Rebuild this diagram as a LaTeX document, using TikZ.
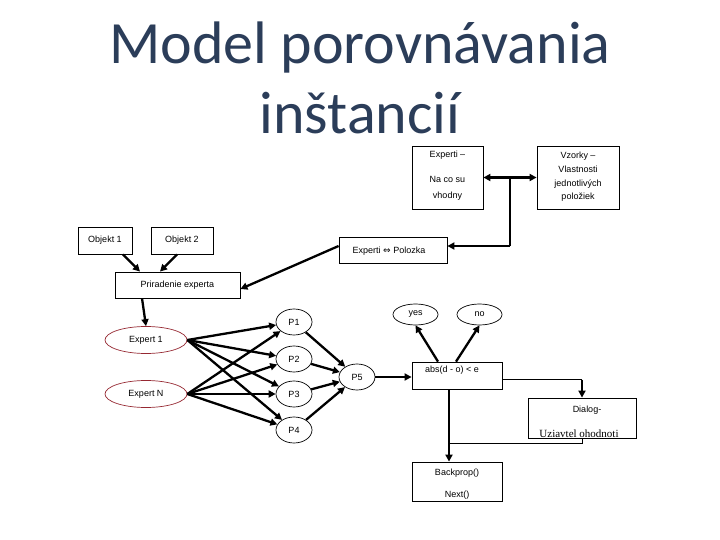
\documentclass[tikz,border=0pt]{standalone}
\usepackage{fontspec}
\setmainfont{Liberation Sans}
\newfontfamily\titlefont{Carlito}
\newfontfamily\symfont{DejaVu Sans}
\newfontfamily\serfont{Liberation Serif}
\usetikzlibrary{arrows.meta,shapes.geometric,calc}
\definecolor{titleblue}{RGB}{43,61,89}
\definecolor{exred}{RGB}{150,40,50}
\begin{document}
\begin{tikzpicture}[x=1pt,y=-1pt,
  every node/.style={font=\fontsize{9}{10}\selectfont},
  rbox/.style={draw,line width=0.8pt,inner sep=0pt,minimum width=#1},
  oval/.style={draw,ellipse,line width=0.7pt,inner sep=0pt,minimum width=#1},
  txt/.style={inner sep=0pt,anchor=base},
  thk/.style={line width=2.3pt,-{Triangle[length=7pt,width=7pt]}},
  thkb/.style={line width=2.3pt,{Triangle[length=7pt,width=7pt]}-{Triangle[length=7pt,width=7pt]}},
  thn/.style={line width=1pt}]
\useasboundingbox (0,0) rectangle (720,540);
\fill[white] (0,0) rectangle (720,540);
% title
\node[txt,font=\titlefont\fontsize{60}{70}\selectfont,text=titleblue] (t1) at (360,64) {Model porovnávania};
\node[txt,font=\titlefont\fontsize{60}{70}\selectfont,text=titleblue] (t2) at (360,134) {inštancií};
% top boxes
\node[rbox=71pt,minimum height=63pt] (experti) at (447.5,177.5) {};
\node[txt] at (447.5,158) {Experti –};
\node[txt] at (447.5,183) {Na co su};
\node[txt] at (447.5,199) {vhodny};
\node[rbox=82pt,minimum height=63pt] (vzorky) at (578,177.5) {};
\node[txt] at (578,159) {Vzorky –};
\node[txt] at (578,173) {Vlastnosti};
\node[txt] at (578,187) {jednotlivých};
\node[txt] at (578,200) {položiek};
\node[rbox=108pt,minimum height=26pt] (polozka) at (393,250) {};
\node[txt] at (389,253) {Experti {\symfont ⇔} Polozka};
\node[rbox=54pt,minimum height=27pt] (obj1) at (105,240.5) {Objekt 1};
\node[rbox=62pt,minimum height=27pt] (obj2) at (182,240.5) {Objekt 2};
\node[rbox=125pt,minimum height=26pt] (prir) at (177.5,285) {Priradenie experta};
% experts
\node[oval=82pt,minimum height=27pt,draw=exred] (e1) at (146,340) {Expert 1};
\node[oval=82pt,minimum height=27pt,draw=exred] (eN) at (146,394) {Expert N};
% P nodes
\node[oval=36pt,minimum height=26pt] (p1) at (294,322) {P1};
\node[oval=36pt,minimum height=26pt] (p2) at (294,359) {P2};
\node[oval=36pt,minimum height=26pt] (p3) at (294,394) {P3};
\node[oval=36pt,minimum height=26pt] (p4) at (294,430) {P4};
\node[oval=36pt,minimum height=26pt] (p5) at (357,377) {P5};
\node[oval=45pt,minimum height=21pt] (yes) at (415.5,314.5) {yes};
\node[oval=45pt,minimum height=21pt] (no) at (479.5,314.5) {no};
\node[rbox=90pt,minimum height=27pt] (abs) at (457,375.5) {};
\node[txt] at (452,372) {abs(d - o) < e};
\node[rbox=108pt,minimum height=40pt] (dialog) at (582,418) {};
\node[txt] at (587,412) {Dialog-};
\node[txt,font=\serfont\fontsize{11}{12}\selectfont] at (579,437) {Uziavtel ohodnoti};
\node[rbox=90pt,minimum height=39pt] (back) at (457,481.5) {};
\node[txt] at (457,475) {Backprop()};
\node[txt] at (457,497) {Next()};
% connectors top
\draw[thkb] (experti.east) -- (vzorky.west);
\coordinate (j1) at ($(experti.east)!0.5!(vzorky.west)$);
\coordinate (j2) at (j1 |- 0,246);
\draw[line width=2.3pt] (j1) -- (j2);
\draw[thk] (j2) -- (j2 -| polozka.east);
\draw[thk] ([xshift=18pt]obj1.south) -- ([xshift=-37.5pt]prir.north);
\draw[thk] ([xshift=-5pt]obj2.south) -- ([xshift=-17.5pt]prir.north);
\draw[thk] ([yshift=4pt]polozka.west) -- ([yshift=-4pt]prir.east);
\draw[thk] ([xshift=-35.5pt]prir.south) -- (e1.north);
% experts to P
\foreach \e in {e1,eN}{
  \foreach \p in {p1,p2,p3,p4}{
    \draw[thk] (\e.east) -- (\p);
  }
}
\foreach \p in {p1,p2,p3,p4}{
  \draw[thk] (\p) -- (p5);
}
\draw[thk] (p5.east) -- (p5.east -| abs.west);
\draw[thk] ([xshift=-19pt]abs.north) -- (yes.south);
\draw[thk] ([xshift=-1pt]abs.north) -- (no.south);
\coordinate (c1) at ([yshift=-4pt]abs.east);
\coordinate (c2) at (c1 -| dialog.north);
\draw[thn] (c1) -- (c2);
\draw[thk] (c2) -- (dialog.north);
\coordinate (b1) at ([xshift=-8pt]abs.south);
\coordinate (b2) at (b1 |- back.north);
\draw[thk] (b1) -- (b2);
\coordinate (d1) at ($(dialog.south)+(0,5)$);
\draw[thn] (dialog.south) -- (d1) -- (d1 -| b1);
\end{tikzpicture}
\end{document}
